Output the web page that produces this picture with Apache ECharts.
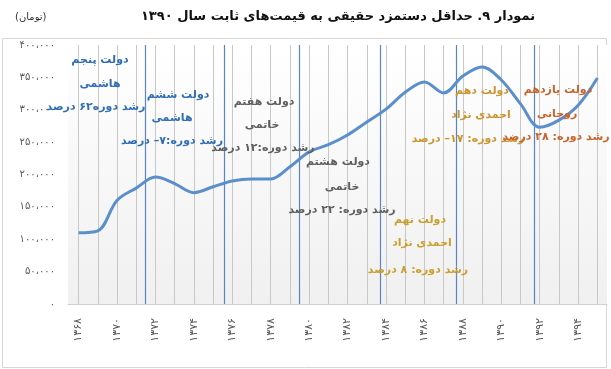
<!DOCTYPE html>
<html><head><meta charset="utf-8">
<script src="https://cdn.jsdelivr.net/npm/echarts@6/dist/echarts.min.js"></script>
<style>html,body{margin:0;padding:0;background:#fff}#c{width:611px;height:369px}</style>
</head><body><div id="c"></div>
<script>
// ---- data ----
const years = [1368,1369,1370,1371,1372,1373,1374,1375,1376,1377,1378,1379,1380,1381,1382,1383,1384,1385,1386,1387,1388,1389,1390,1391,1392,1393,1394,1395];
const wages = [110000,113000,160000,179000,196000,186000,172000,181000,190000,193000,193000,212000,235000,246000,261000,281000,301000,327000,343000,326000,352000,366000,346000,309000,273000,284000,307000,349000];
const xTickLabels = [1368,1370,1372,1374,1376,1378,1380,1382,1384,1386,1388,1390,1392,1394];
const govBoundaries = [1371.47,1375.57,1379.47,1383.7,1387.63,1391.7];
const titleText = 'نمودار ۹. حداقل دستمزد حقیقی به قیمت‌های ثابت سال ۱۳۹۰';
const unitText = '(تومان)';
const govNotes = [
  ['دولت پنجم','هاشمی','رشد دوره۶۲ درصد'],
  ['دولت ششم','هاشمی','رشد دوره:۷– درصد'],
  ['دولت هفتم','خاتمی','رشد دوره:۱۲ درصد'],
  ['دولت هشتم','خاتمی','رشد دوره: ۲۲ درصد'],
  ['دولت نهم','احمدی نژاد','رشد دوره: ۸ درصد'],
  ['دولت دهم','احمدی نژاد','رشد دوره: ۱۷– درصد'],
  ['دولت یازدهم','روحانی','رشد دوره: ۲۸ درصد']
];

// ---- helpers ----
const FA = '۰۱۲۳۴۵۶۷۸۹';
function fa(s){ return String(s).replace(/\d/g, d => FA[d]); }
function faNum(n){
  const s = String(Math.round(n)).replace(/\B(?=(\d{3})+(?!\d))/g, '،');
  return fa(s);
}

// annotation layout (pixel positions of each text line)
const noteLayout = [
  {color:'#2f6db5', pos:[[100,60],[100,84],[96,107]]},
  {color:'#2f6db5', pos:[[178,95],[172,118],[172,141]]},
  {color:'#5f5f5f', pos:[[264,102],[262,125],[263,148]]},
  {color:'#5f5f5f', pos:[[338,162],[342,187],[342,210]]},
  {color:'#c9a030', pos:[[420,220],[422,243],[418,270]]},
  {color:'#cc952e', pos:[[482,91],[481,115],[468,139]]},
  {color:'#c8632b', pos:[[558,90],[557,114],[556,137]]}
];

const graphics = [
  {type:'rect', silent:true, shape:{x:2.5,y:38.5,width:604,height:329}, style:{fill:'none', stroke:'#d6d6d6', lineWidth:1}, z:-1},
  {type:'text', x:338, y:17, style:{text:titleText, font:'bold 13px "DejaVu Sans"', fill:'#111', textAlign:'center', textVerticalAlign:'middle'}},
  {type:'text', x:15, y:17, style:{text:unitText, font:'10px "DejaVu Sans"', fill:'#333', textAlign:'left', textVerticalAlign:'middle'}}
];
govNotes.forEach((lines, gi) => {
  const L = noteLayout[gi];
  lines.forEach((t, li) => {
    graphics.push({type:'text', x:L.pos[li][0], y:L.pos[li][1], z:50,
      style:{text:t, font:'bold 11px "DejaVu Sans"', fill:L.color, textAlign:'center', textVerticalAlign:'middle'}});
  });
});

const chart = echarts.init(document.getElementById('c'), null, {renderer:'canvas'});
chart.setOption({
  animation:false,
  textStyle:{fontFamily:'"DejaVu Sans", sans-serif'},
  grid:{left:68, right:4, top:45, bottom:65, show:true, borderWidth:0,
    backgroundColor:new echarts.graphic.LinearGradient(0,0,0,1,[{offset:0,color:'#ffffff'},{offset:1,color:'#f0f0f0'}])},
  xAxis:{type:'value', min:1367.45, max:1395.5,
    axisLine:{show:true, lineStyle:{color:'#d0d0d0'}},
    axisTick:{show:false}, splitLine:{show:false},
    axisLabel:{customValues:xTickLabels, rotate:90, margin:14, fontSize:11, color:'#595959', formatter:v=>fa(v)}},
  yAxis:{type:'value', min:0, max:400000, interval:50000,
    axisLine:{show:false}, axisTick:{show:false}, splitLine:{show:false},
    axisLabel:{margin:13, fontSize:10, color:'#595959', formatter:v=>faNum(v)}},
  graphic:graphics,
  series:[
    {type:'line', z:1, data:[[years[0],null]], silent:true, showSymbol:false,
      markLine:{silent:true, symbol:'none', label:{show:false}, animation:false,
        lineStyle:{color:'#c8c8c8', type:'solid', width:1},
        data:years.map(y=>({xAxis:y}))}},
    {type:'line', z:2, data:[[years[0],null]], silent:true, showSymbol:false,
      markLine:{silent:true, symbol:'none', label:{show:false}, animation:false,
        lineStyle:{color:'#5a86bf', type:'solid', width:1.2},
        data:govBoundaries.map(b=>({xAxis:b}))}},
    {type:'line', z:5, smooth:0.35, showSymbol:false, silent:true,
      lineStyle:{color:'#5b8fcb', width:3},
      data:years.map((y,i)=>[y,wages[i]])}
  ]
});
</script></body></html>
